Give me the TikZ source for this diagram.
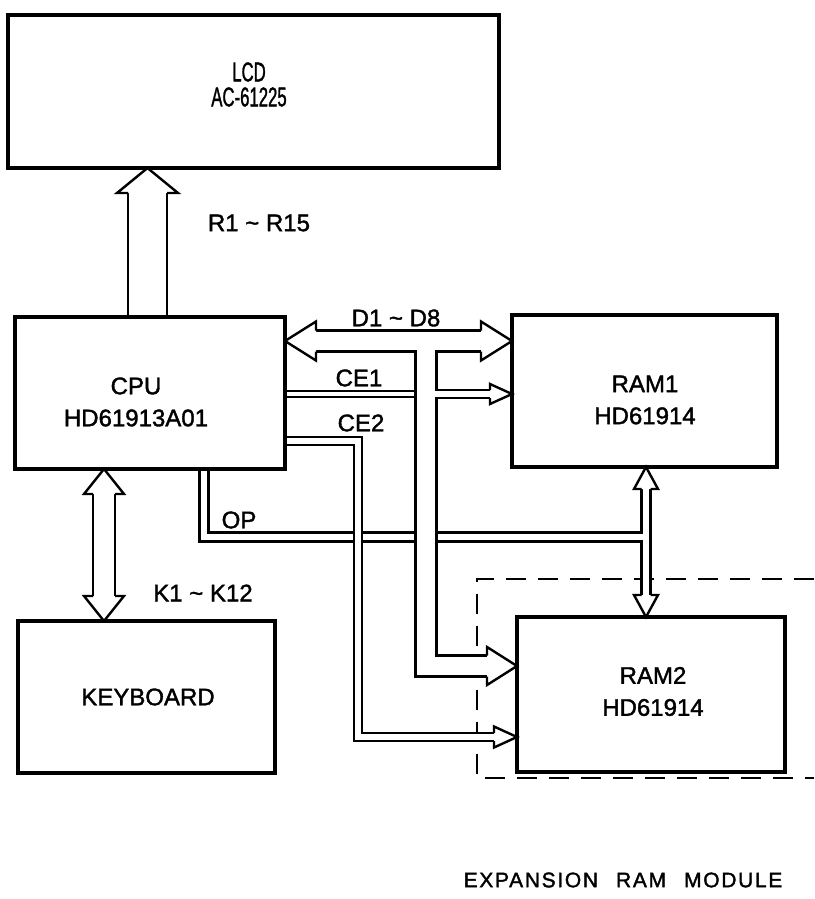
\documentclass[tikz,border=0pt]{standalone}
\usepackage{fontspec}
\usepackage{graphicx}
\setmainfont{Liberation Sans}
\newfontfamily\lblfont{Liberation Sans}[FakeBold=1.6]
\usetikzlibrary{backgrounds}

\tikzset{
  box/.style={draw, line width=2.2pt, outer sep=0pt, inner sep=0pt},
  lbl/.style={inner sep=0pt, align=center, font=\lblfont\fontsize{12}{16}\selectfont},
  busline/.style={line width=1.2pt, line join=miter},
  busout/.style={line width=#1*0.5pt+1.2pt},
  busin/.style={white, line width=#1*0.5pt-1.2pt},
  module/.style={line width=0.75pt, dash pattern=on 10pt off 6pt},
}
% hollow arrow head: tip, angle, length, half width of head, half width of bus
\newcommand{\bushead}[5]{%
  \begin{scope}[shift={#1}, rotate=#2]
    \fill[white] (0,0) -- (-#3,#4) -- (-#3,-#4) -- cycle;
    \draw[busline] (-#3,#5) -- (-#3,#4) -- (0,0) -- (-#3,-#4) -- (-#3,-#5);
  \end{scope}}

\begin{document}
\begin{tikzpicture}[x=0.5pt, y=-0.5pt]
  \useasboundingbox (0,0) rectangle (814,899);

  \node[box, minimum width=245.5pt, minimum height=76.5pt] (lcd) at (253.5,91.5) {};
  \node[box, minimum width=135pt, minimum height=76pt] (cpu) at (150,393) {};
  \node[box, minimum width=132.5pt, minimum height=76pt] (ram1) at (644.5,391) {};
  \node[box, minimum width=134pt, minimum height=77.5pt] (ram2) at (651,694.5) {};
  \node[box, minimum width=128.5pt, minimum height=76pt] (key) at (146.5,697) {};

  \node[lbl, font=\lblfont\fontsize{13.5}{12.5}\selectfont] (lcdtxt) at (249,84.5)
    {\scalebox{0.62}[1]{LCD}\\\scalebox{0.62}[1]{AC-61225}};
  \node[lbl] (cputxt) at (136,402) {CPU\\HD61913A01};
  \node[lbl] (ram1txt) at (645,400) {RAM1\\HD61914};
  \node[lbl] (ram2txt) at (653,691.5) {RAM2\\HD61914};
  \node[lbl] (keytxt) at (148,697) {KEYBOARD};

  \node[lbl] (rtxt) at (259,223) {R1 \textasciitilde\ R15};
  \node[lbl] (dtxt) at (396,318) {D1 \textasciitilde\ D8};
  \node[lbl] (ce1txt) at (359,378) {CE1};
  \node[lbl] (ce2txt) at (361,423) {CE2};
  \node[lbl] (optxt) at (239,520) {OP};
  \node[lbl] (ktxt) at (203,593) {K1 \textasciitilde\ K12};
  \node[lbl, font=\lblfont\fontsize{10.5}{12}\selectfont\addfontfeatures{LetterSpace=8}] (modtxt) at (623,880)
    {EXPANSION\hspace{9pt}RAM\hspace{9pt}MODULE};

  \begin{scope}[on background layer]
    \draw[module] (814,579) -- (477,579) -- (477,778) -- (814,778);

    % OP and RAM1/RAM2
    \draw[busout=9] (cpu.south -| 204,0) -- (204,537) -- (646,537) (646,487) -- (646,597);
    \draw[busin=9] (cpu.south -| 204,0) -- (204,537) -- (646,537) (646,487) -- (646,597);
    \bushead{(ram1.south -| 646,0)}{90}{22}{12}{4.5}
    \bushead{(ram2.north -| 646,0)}{270}{22}{12}{4.5}

    % CE2
    \draw[busout=8] (cpu.east |- 0,441) -- (358,441) -- (358,737) -- (497,737);
    \draw[busin=8] (cpu.east |- 0,441) -- (358,441) -- (358,737) -- (497,737);
    \bushead{(ram2.west |- 0,737)}{0}{23}{10.5}{4}

    % CE1
    \draw[busout=6] (cpu.east |- 0,394) -- (426,394);
    \draw[busin=6] (cpu.east |- 0,394) -- (426,394);

    % D1 ~ D8
    \draw[busout=21] (314,341) -- (483,341) (426,341) -- (426,666) -- (489,666);
    \draw[busout=8] (426,394) -- (492,394);
    \draw[busin=21] (314,341) -- (483,341) (426,341) -- (426,666) -- (489,666);
    \draw[busin=8] (426,394) -- (492,394);
    \bushead{(cpu.east |- 0,341)}{180}{31}{19.5}{10.5}
    \bushead{(ram1.west |- 0,341)}{0}{31}{19.5}{10.5}
    \bushead{(ram1.west |- 0,394)}{0}{22}{10}{4}
    \bushead{(ram2.west |- 0,666)}{0}{30}{19}{10.5}

    % R1 ~ R15
    \draw[busout=39] (cpu.north -| 147.5,0) -- (147.5,191);
    \draw[busin=39] (cpu.north -| 147.5,0) -- (147.5,191);
    \bushead{(lcd.south -| 147.5,0)}{90}{25}{30.5}{19.5}

    % K1 ~ K12
    \draw[busout=22] (104,492) -- (104,598);
    \draw[busin=22] (104,492) -- (104,598);
    \bushead{(cpu.south -| 104,0)}{90}{25}{20}{11}
    \bushead{(key.north -| 104,0)}{270}{25}{20}{11}
  \end{scope}
\end{tikzpicture}
\end{document}
